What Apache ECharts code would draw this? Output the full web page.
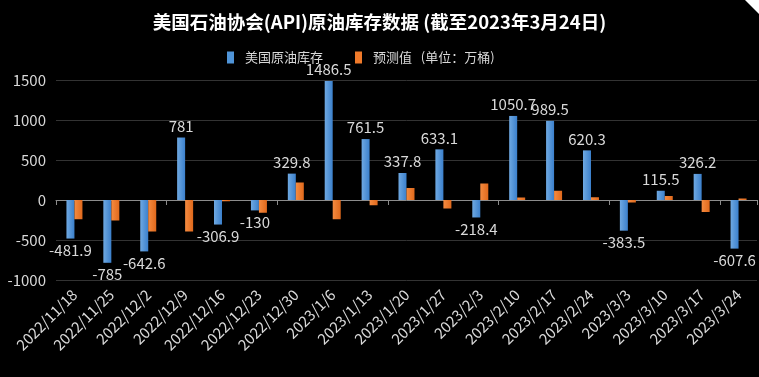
<!DOCTYPE html>
<html>
<head>
  <meta charset="utf-8">
  <title>API原油库存</title>
  <script src="https://cdn.jsdelivr.net/npm/echarts/dist/echarts.min.js"></script>
  <style>
    html, body { margin: 0; padding: 0; background: #000; }
    #chart { width: 759px; height: 377px; }
  </style>
</head>
<body>
  <div id="chart"></div>
  <script>
    // 日期
    var dates = ['2022/11/18', '2022/11/25', '2022/12/2', '2022/12/9', '2022/12/16', '2022/12/23', '2022/12/30',
      '2023/1/6', '2023/1/13', '2023/1/20', '2023/1/27', '2023/2/3', '2023/2/10', '2023/2/17', '2023/2/24',
      '2023/3/3', '2023/3/10', '2023/3/17', '2023/3/24'];
    // 美国原油库存 (万桶)
    var stock = [-481.9, -785, -642.6, 781, -306.9, -130, 329.8, 1486.5, 761.5, 337.8, 633.1, -218.4,
      1050.7, 989.5, 620.3, -383.5, 115.5, 326.2, -607.6];
    // 预测值 (估计)
    var forecast = [-240, -255, -395, -395, -15, -160, 220, -240, -65, 150, -105, 205,
      30, 115, 35, -30, 50, -150, 20];
    var yTicks = [-1000, -500, 0, 500, 1000, 1500];

    var chart = echarts.init(document.getElementById('chart'));
    var font = 'Microsoft YaHei, "Noto Sans CJK SC", sans-serif';

    var option = {
      backgroundColor: '#000',
      title: {
        text: '美国石油协会(API)原油库存数据 (截至2023年3月24日)',
        left: 'center',
        top: 8,
        textStyle: { color: '#fff', fontSize: 18.5, fontWeight: 'bold', fontFamily: font }
      },
      legend: {
        top: 46,
        left: 222,
        itemWidth: 7,
        itemHeight: 12,
        itemGap: 32,
        textStyle: { color: '#d9d9d9', fontSize: 13, fontFamily: font, padding: [0, 0, 0, 6] },
        data: [
          { name: '美国原油库存', icon: 'rect', itemStyle: { color: '#4f94d8' } },
          { name: '预测值   (单位：万桶)', icon: 'rect', itemStyle: { color: '#f07a2a' } }
        ]
      },
      grid: { left: 56, right: 2, top: 80, bottom: 97, outerBoundsMode: 'none' },
      graphic: [{
        type: 'polygon',
        shape: { points: [[745, 0], [759, 0], [759, 14]] },
        style: { fill: '#fff' }
      }],
      xAxis: [
        {
          type: 'category',
          data: dates,
          position: 'bottom',
          axisLine: { show: false, onZero: false },
          axisTick: { show: false },
          axisLabel: {
            rotate: 45,
            interval: 0,
            margin: 12,
            color: '#d9d9d9',
            fontSize: 15,
            fontFamily: font
          },
          splitLine: { show: false }
        },
        {
          type: 'category',
          data: dates,
          position: 'bottom',
          axisLine: { show: true, onZero: true, lineStyle: { color: '#8c8c8c', width: 1 } },
          axisTick: { show: true, length: 5, lineStyle: { color: '#8c8c8c' } },
          axisLabel: { show: false },
          splitLine: { show: false }
        }
      ],
      yAxis: {
        type: 'value',
        min: yTicks[0],
        max: yTicks[yTicks.length - 1],
        interval: 500,
        axisLine: { show: false },
        axisTick: { show: false },
        axisLabel: {
          color: '#d9d9d9',
          fontSize: 15,
          margin: 10,
          fontFamily: font,
          formatter: function (v) { return String(v); }
        },
        splitLine: { lineStyle: { color: '#333', width: 1 } }
      },
      series: [
        {
          name: '美国原油库存',
          type: 'bar',
          xAxisIndex: 0,
          data: stock,
          barWidth: 8,
          barGap: '0%',
          itemStyle: {
            color: new echarts.graphic.LinearGradient(0, 0, 1, 0, [
              { offset: 0, color: '#6fa9e2' },
              { offset: 1, color: '#3b80cc' }
            ])
          },
          label: {
            show: true,
            position: 'outside',
            distance: 4,
            color: '#d9d9d9',
            fontSize: 15,
            fontFamily: font
          }
        },
        {
          name: '预测值   (单位：万桶)',
          type: 'bar',
          xAxisIndex: 0,
          data: forecast,
          barWidth: 8,
          barGap: '0%',
          itemStyle: {
            color: new echarts.graphic.LinearGradient(0, 0, 1, 0, [
              { offset: 0, color: '#f58b40' },
              { offset: 1, color: '#e0691c' }
            ])
          }
        }
      ]
    };
    chart.setOption(option);
  </script>
</body>
</html>
